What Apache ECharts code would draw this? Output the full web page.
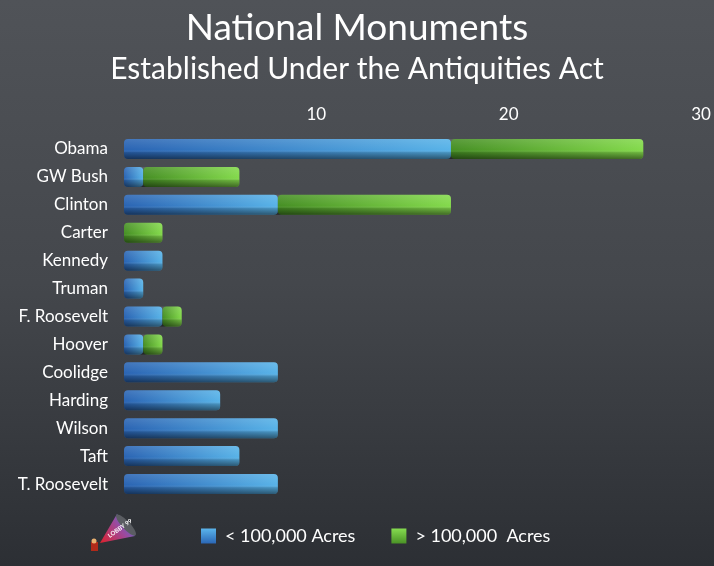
<!DOCTYPE html>
<html><head><meta charset="utf-8">
<script src="https://cdn.jsdelivr.net/npm/echarts@6/dist/echarts.min.js"></script>
<style>html,body{margin:0;padding:0;background:#3f4247}#c{width:714px;height:566px}</style>
</head><body><div id="c"></div>
<script>
const categories = ['Obama','GW Bush','Clinton','Carter','Kennedy','Truman','F. Roosevelt','Hoover','Coolidge','Harding','Wilson','Taft','T. Roosevelt'];
const smallAcres = [17,1,8,0,2,1,2,1,8,5,8,6,8];
const largeAcres = [10,5,9,2,0,0,1,1,0,0,0,0,0];
const xTicks = [10,20,30];
const seriesNames = ['< 100,000 Acres', '> 100,000  Acres'];

const totals = smallAcres.map((v,i)=>v+largeAcres[i]);
const FONT = 'Lato, "Noto Sans", sans-serif';
const G = echarts.graphic.LinearGradient;
const hGrad = (a,b)=>new G(0,0,1,0,[{offset:0,color:a},{offset:1,color:b}]);
const vGrad = (a,b)=>new G(0,0,0,1,[{offset:0,color:a},{offset:1,color:b}]);

const chart = echarts.init(document.getElementById('c'), null, {renderer:'canvas'});
chart.setOption({
  backgroundColor: new G(0,0,0,1,[{offset:0,color:'#505358'},{offset:0.5,color:'#44474c'},{offset:1,color:'#2c2f34'}]),
  title: [
    {text:'National Monuments', left:'center', top:5, textStyle:{color:'#ffffff', fontSize:37, fontWeight:'normal', fontFamily:FONT}},
    {text:'Established Under the Antiquities Act', left:'center', top:49, textStyle:{color:'#ffffff', fontSize:30, fontWeight:'normal', fontFamily:FONT}}
  ],
  grid: {left:124, right:13, top:135, bottom:68, containLabel:false},
  legend: {
    left:196, top:522, itemWidth:15, itemHeight:15, itemGap:36, icon:'rect',
    textStyle:{color:'#ffffff', fontSize:18, fontFamily:FONT, padding:[0,0,0,4]},
    data:[
      {name:seriesNames[0], itemStyle:{color:vGrad('#5bb5ec','#2a66b5')}},
      {name:seriesNames[1], itemStyle:{color:vGrad('#86dc50','#4a9226')}}
    ]
  },
  xAxis: {
    type:'value', position:'top', min:0, max:30, interval:10,
    axisLine:{show:false}, axisTick:{show:false}, splitLine:{show:false},
    axisLabel:{color:'#ffffff', fontSize:17, fontFamily:FONT, margin:12,
      formatter:(v)=> xTicks.includes(v) ? String(v) : ''}
  },
  yAxis: {
    type:'category', inverse:true, data:categories,
    axisLine:{show:false}, axisTick:{show:false},
    axisLabel:{color:'#ffffff', fontSize:17, fontFamily:FONT, margin:16}
  },
  series: [
    {name:seriesNames[0], type:'bar', stack:'t', barWidth:20, data:smallAcres,
      itemStyle:{color:hGrad('#2a64b3','#58b3e8'), borderRadius:4}},
    {name:seriesNames[1], type:'bar', stack:'t', barWidth:20, data:largeAcres,
      itemStyle:{color:hGrad('#468f24','#84da4c'), borderRadius:4}},
    {name:'shade', type:'bar', barWidth:20, barGap:'-100%', data:totals, silent:true,
      itemStyle:{borderRadius:4, color:new G(0,0,0,1,[
        {offset:0,color:'rgba(255,255,255,0.12)'},
        {offset:0.55,color:'rgba(255,255,255,0)'},
        {offset:0.68,color:'rgba(0,0,0,0.18)'},
        {offset:1,color:'rgba(0,0,0,0.5)'}])}}
  ],
  graphic: [
    {type:'polygon', shape:{points:[[100,543],[117,514],[135,536]]},
      style:{fill:new G(0,1,1,0,[{offset:0,color:'#e0202a'},{offset:0.55,color:'#9a4aa0'},{offset:1,color:'#2a8ae0'}])}},
    {type:'ellipse', shape:{cx:126, cy:525, rx:4, ry:14}, rotation:0.75, originX:126, originY:525,
      style:{fill:'#5a5d62'}},
    {type:'text', x:107, y:534, rotation:0.62, style:{text:'LOBBY 99', fill:'#ffffff', fontSize:6, fontWeight:'bold', fontFamily:FONT}},
    {type:'rect', shape:{x:91, y:542, width:7, height:9}, style:{fill:'#b02a1a'}},
    {type:'circle', shape:{cx:94, cy:541, r:2.5}, style:{fill:'#e8b070'}}
  ]
});
</script></body></html>
